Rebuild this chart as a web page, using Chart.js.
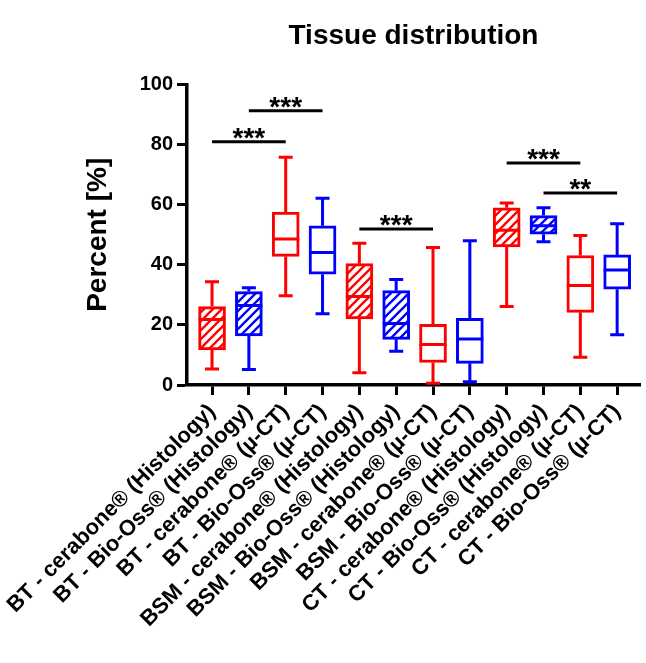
<!DOCTYPE html>
<html>
<head>
<meta charset="utf-8">
<script src="https://cdn.jsdelivr.net/npm/chart.js@4"></script>
<style>html,body{margin:0;padding:0;background:#fff}</style>
</head>
<body>
<canvas id="chart" width="646" height="663"></canvas>
<script>
// box plot values (percent)
const labels = [
    'BT - cerabone® (Histology)', 'BT - Bio-Oss® (Histology)',
    'BT - cerabone® (µ-CT)', 'BT - Bio-Oss® (µ-CT)',
    'BSM - cerabone® (Histology)', 'BSM - Bio-Oss® (Histology)',
    'BSM - cerabone® (µ-CT)', 'BSM - Bio-Oss® (µ-CT)',
    'CT - cerabone® (Histology)', 'CT - Bio-Oss® (Histology)',
    'CT - cerabone® (µ-CT)', 'CT - Bio-Oss® (µ-CT)'
];
const minValues = [5.3, 5.2, 29.7, 23.7, 4.1, 11.2, 0.6, 1.1, 26.1, 47.7, 9.2, 16.7];
const q1Values = [11.7, 16.3, 42.8, 36.9, 22.0, 15.2, 7.5, 7.2, 46.0, 50.2, 24.2, 31.9];
const medianValues = [21.8, 26.5, 48.6, 44.1, 29.5, 20.5, 13.5, 15.3, 51.5, 53.0, 33.1, 38.3];
const q3Values = [26.1, 31.1, 57.6, 53.0, 40.4, 31.4, 20.2, 22.2, 59.0, 56.4, 43.1, 43.3];
const maxValues = [34.4, 32.4, 75.8, 62.2, 47.2, 35.1, 45.8, 48.0, 60.6, 59.0, 49.8, 53.7];

// significance brackets: from group, to group, height, stars
const sigFrom = [0, 1, 4, 8, 9];
const sigTo = [2, 3, 6, 10, 11];
const sigLevel = [81, 91.3, 51.9, 73.9, 63.9];
const sigStars = ['***', '***', '***', '***', '**'];

const yTicks = [0, 20, 40, 60, 80, 100];

Chart.defaults.font.family = '"Liberation Sans", Arial, sans-serif';
Chart.defaults.color = '#000';

const RED = '#ff0000';
const BLUE = '#0000ff';

function colorFor(i) {
    return labels[i].includes('cerabone') ? RED : BLUE;
}

function hatch(color) {
    const size = 9;
    const c = document.createElement('canvas');
    c.width = c.height = size;
    const g = c.getContext('2d');
    g.fillStyle = '#fff';
    g.fillRect(0, 0, size, size);
    g.strokeStyle = color;
    g.lineWidth = 2.3;
    g.beginPath();
    g.moveTo(-2, size + 2); g.lineTo(size + 2, -2);
    g.moveTo(-2, 2); g.lineTo(2, -2);
    g.moveTo(size - 2, size + 2); g.lineTo(size + 2, size - 2);
    g.stroke();
    return g.createPattern(c, 'repeat');
}

const boxExtras = {
    id: 'boxExtras',
    afterDatasetsDraw(chart) {
        const { ctx, scales: { x, y } } = chart;
        const bars = chart.getDatasetMeta(0).data;
        ctx.save();
        ctx.lineWidth = 3;
        ctx.lineCap = 'butt';
        bars.forEach((bar, i) => {
            const cx = bar.x;
            const half = bar.width / 2;
            const cap = 7;
            const yMin = y.getPixelForValue(minValues[i]);
            const yMax = y.getPixelForValue(maxValues[i]);
            const yQ1 = y.getPixelForValue(q1Values[i]);
            const yQ3 = y.getPixelForValue(q3Values[i]);
            const yMed = y.getPixelForValue(medianValues[i]);
            ctx.strokeStyle = colorFor(i);
            ctx.beginPath();
            ctx.moveTo(cx, yQ3); ctx.lineTo(cx, yMax);
            ctx.moveTo(cx - cap, yMax); ctx.lineTo(cx + cap, yMax);
            ctx.moveTo(cx, yQ1); ctx.lineTo(cx, yMin);
            ctx.moveTo(cx - cap, yMin); ctx.lineTo(cx + cap, yMin);
            ctx.moveTo(cx - half, yMed); ctx.lineTo(cx + half, yMed);
            ctx.stroke();
        });

        ctx.strokeStyle = '#000';
        ctx.fillStyle = '#000';
        ctx.font = 'bold 28px "Liberation Sans", Arial, sans-serif';
        ctx.textAlign = 'center';
        ctx.textBaseline = 'alphabetic';
        sigFrom.forEach((from, k) => {
            const x1 = x.getPixelForValue(from);
            const x2 = x.getPixelForValue(sigTo[k]);
            const yy = y.getPixelForValue(sigLevel[k]);
            ctx.beginPath();
            ctx.moveTo(x1, yy); ctx.lineTo(x2, yy);
            ctx.stroke();
            ctx.fillText(sigStars[k], (x1 + x2) / 2, yy + 5);
        });
        ctx.restore();
    }
};

const axisGrid = {
    drawOnChartArea: false,
    drawTicks: true,
    tickLength: 10,
    tickWidth: 3,
    tickColor: '#000',
    offset: false
};
const axisBorder = { display: true, color: '#000', width: 3.5 };

new Chart(document.getElementById('chart'), {
    type: 'bar',
    data: {
        datasets: [{
            data: labels.map((l, i) => ({ x: i, y: [q1Values[i], q3Values[i]] })),
            backgroundColor: labels.map((l, i) => l.includes('Histology') ? hatch(colorFor(i)) : '#fff'),
            borderColor: labels.map((l, i) => colorFor(i)),
            borderWidth: 3,
            borderSkipped: false,
            barThickness: 27
        }]
    },
    options: {
        responsive: false,
        animation: false,
        layout: { padding: { left: 0, right: 6, top: 0, bottom: 0 } },
        plugins: {
            legend: { display: false },
            tooltip: { enabled: false },
            title: {
                display: true,
                text: 'Tissue distribution',
                fullSize: false,
                color: '#000',
                font: { size: 28, weight: 'bold' },
                padding: { top: 19, bottom: 32 }
            }
        },
        scales: {
            x: {
                type: 'linear',
                offset: false,
                min: -0.68,
                max: 11.62,
                afterFit: scale => {
                    scale.height = 278;
                    scale.paddingLeft = 0;
                    scale.paddingRight = 0;
                },
                afterBuildTicks: scale => {
                    scale.ticks = labels.map((l, i) => ({ value: i }));
                },
                ticks: {
                    stepSize: 1,
                    autoSkip: false,
                    maxRotation: 45,
                    minRotation: 45,
                    padding: 4,
                    color: '#000',
                    font: { size: 22, weight: 'bold' },
                    callback: v => labels[v] || ''
                },
                grid: axisGrid,
                border: axisBorder
            },
            y: {
                min: 0,
                max: 100,
                afterFit: scale => { scale.width = 187; },
                afterBuildTicks: scale => {
                    scale.ticks = yTicks.map(v => ({ value: v }));
                },
                ticks: {
                    stepSize: 20,
                    padding: 4,
                    color: '#000',
                    font: { size: 20, weight: 'bold' }
                },
                grid: axisGrid,
                border: axisBorder,
                title: {
                    display: true,
                    text: 'Percent [%]',
                    color: '#000',
                    font: { size: 28, weight: 'bold' },
                    padding: { top: 81, bottom: 0 }
                }
            }
        }
    },
    plugins: [boxExtras]
});
</script>
</body>
</html>
